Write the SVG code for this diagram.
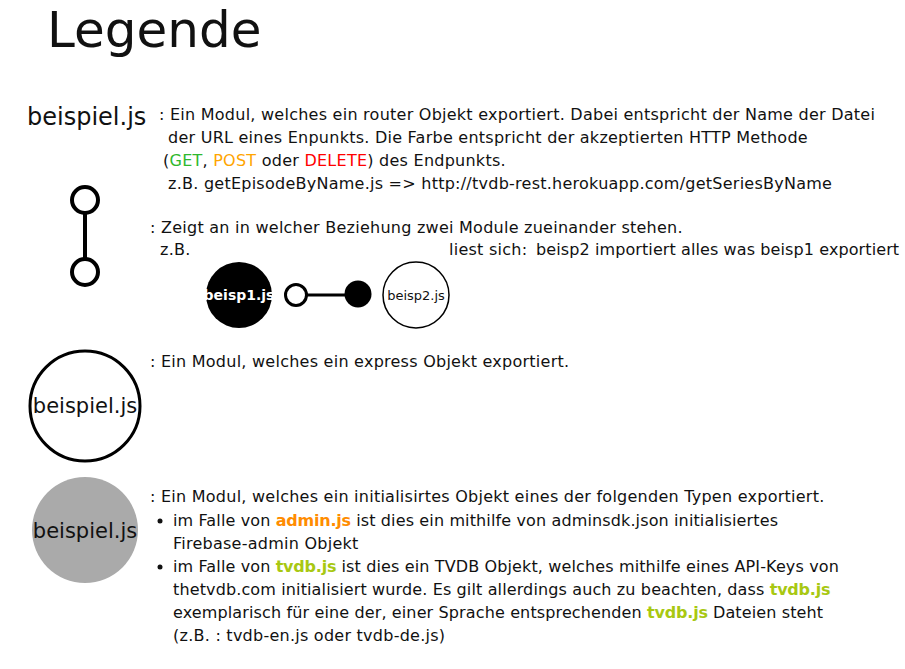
<svg xmlns="http://www.w3.org/2000/svg" width="905" height="669" viewBox="0 0 905 669">
<style>
text{font-family:"DejaVu Sans","Liberation Sans",sans-serif;fill:#111;}
.t{font-size:16px;letter-spacing:0.25px;}
.tb{letter-spacing:0.13px;}
.lbl{font-size:21px;}
.g{fill:#2eb82e;} .o{fill:#ffa500;} .r{fill:#ff0000;}
.a{fill:#ff8c00;font-weight:bold;letter-spacing:-0.2px;} .y{fill:#a8c812;font-weight:bold;letter-spacing:-0.2px;}
.ln{stroke:#000;stroke-width:4;fill:none;}
</style>
<rect width="905" height="669" fill="#fff"/>
<text x="47" y="47" style="font-size:50px">Legende</text>

<g id="router">
<text x="27" y="125" style="font-size:24px">beispiel.js</text>
<text class="t" x="159" y="120">: Ein Modul, welches ein router Objekt exportiert. Dabei entspricht der Name der Datei</text>
<text class="t" x="168" y="143">der URL eines Enpunkts. Die Farbe entspricht der akzeptierten HTTP Methode</text>
<text class="t" x="163" y="166">(<tspan class="g">GET</tspan>, <tspan class="o">POST</tspan> oder <tspan class="r">DELETE</tspan>) des Endpunkts.</text>
<text class="t" x="168" y="189">z.B. getEpisodeByName.js =&gt; http://tvdb-rest.herokuapp.com/getSeriesByName</text>
</g>

<g id="relation">
<circle cx="85" cy="200" r="13" fill="#fff" stroke="#000" stroke-width="4"/>
<circle cx="85" cy="272" r="13" fill="#fff" stroke="#000" stroke-width="4"/>
<text class="t" x="150" y="233">: Zeigt an in welcher Beziehung zwei Module zueinander stehen.</text>
<text class="t" x="160" y="255">z.B.</text>
<text class="t" x="449" y="255">liest sich:</text>
<text class="t" x="536" y="255" style="letter-spacing:0.1px">beisp2 importiert alles was beisp1 exportiert</text>
</g>

<g id="beisp1">
<circle cx="239" cy="295" r="33" fill="#000"/>
<text x="239" y="300" text-anchor="middle" style="font-size:14px;font-weight:bold;fill:#fff">beisp1.js</text>
</g>
<g id="beisp2">
<circle cx="416" cy="295" r="33" fill="#fff" stroke="#000" stroke-width="1.5"/>
<text x="416" y="300" text-anchor="middle" style="font-size:13px">beisp2.js</text>
</g>

<g id="connectors">
<line class="ln" x1="85" y1="213" x2="85" y2="259"/>
<circle cx="296" cy="295" r="10.5" fill="#fff" stroke="#000" stroke-width="3"/>
<line x1="307" y1="295" x2="346" y2="295" stroke="#000" stroke-width="3"/>
<circle cx="358" cy="294" r="13.5" fill="#000"/>
</g>

<g id="express">
<circle cx="85" cy="406" r="55" fill="#fff" stroke="#000" stroke-width="3"/>
<text class="lbl" x="85" y="413" text-anchor="middle">beispiel.js</text>
<text class="t" x="150" y="367">: Ein Modul, welches ein express Objekt exportiert.</text>
</g>

<g id="initialized">
<circle cx="85" cy="530" r="53" fill="#aaaaaa"/>
<text class="lbl" x="85" y="538" text-anchor="middle">beispiel.js</text>
<text class="t" x="150" y="502">: Ein Modul, welches ein initialisirtes Objekt eines der folgenden Typen exportiert.</text>
<circle cx="160" cy="521" r="2.5" fill="#111"/>
<text class="t tb" x="173" y="526">im Falle von <tspan class="a">admin.js</tspan> ist dies ein mithilfe von adminsdk.json initialisiertes</text>
<text class="t" x="173" y="549">Firebase-admin Objekt</text>
<circle cx="160" cy="567" r="2.5" fill="#111"/>
<text class="t tb" x="173" y="572">im Falle von <tspan class="y">tvdb.js</tspan> ist dies ein TVDB Objekt, welches mithilfe eines API-Keys von</text>
<text class="t tb" x="173" y="595">thetvdb.com initialisiert wurde. Es gilt allerdings auch zu beachten, dass <tspan class="y">tvdb.js</tspan></text>
<text class="t tb" x="173" y="618">exemplarisch für eine der, einer Sprache entsprechenden <tspan class="y">tvdb.js</tspan> Dateien steht</text>
<text class="t" x="173" y="641">(z.B. : tvdb-en.js oder tvdb-de.js)</text>
</g>
</svg>
